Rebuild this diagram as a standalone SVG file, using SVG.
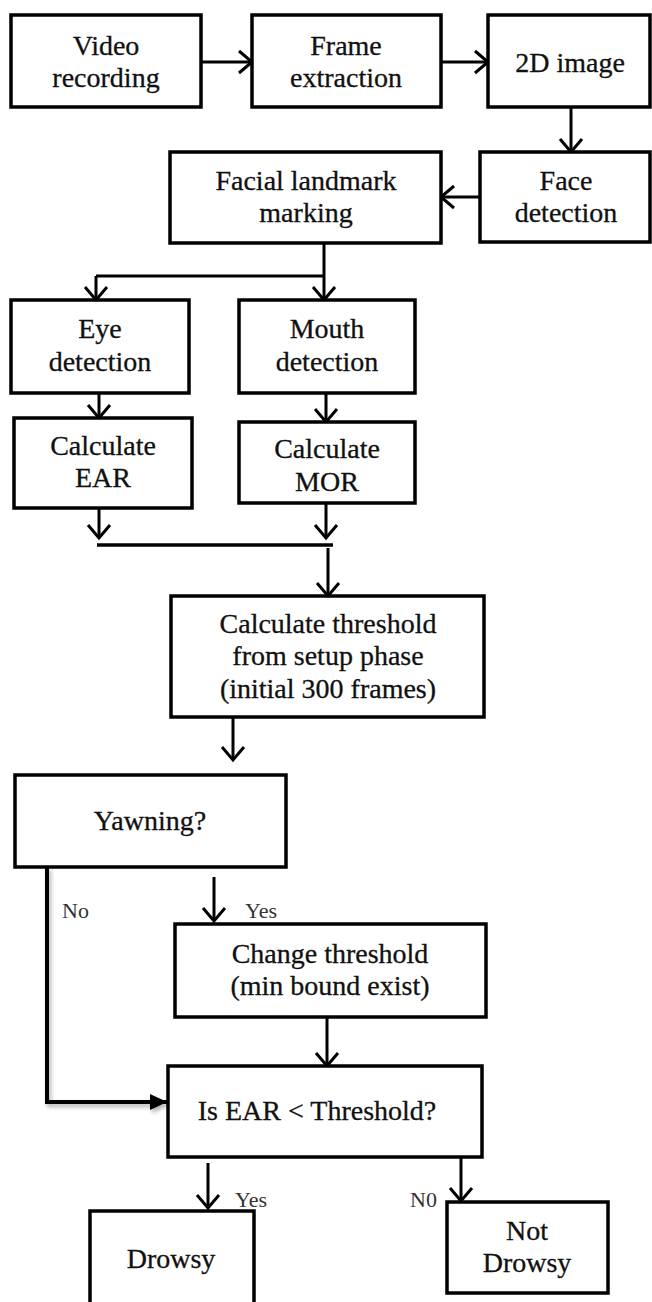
<svg xmlns="http://www.w3.org/2000/svg" width="652" height="1302" viewBox="0 0 652 1302">
<style>
.box{fill:#fff;stroke:#000;stroke-width:3.5}
.t{font-family:"Liberation Serif","Times New Roman",serif;font-size:28px;text-anchor:middle;fill:#111;stroke:#111;stroke-width:0.3}
.lbl{font-family:"Liberation Serif","Times New Roman",serif;font-size:22px;fill:#333}
.c{stroke:#000;stroke-width:3;fill:none}
.ca{stroke:#000;stroke-width:3;fill:none;marker-end:url(#open)}
</style>
<defs>
<marker id="open" markerUnits="userSpaceOnUse" markerWidth="18" markerHeight="26" viewBox="0 0 18 26" refX="15" refY="13" orient="auto">
<path d="M2,2 L15,13 L2,24" fill="none" stroke="#000" stroke-width="3"/>
</marker>
<marker id="solid" markerUnits="userSpaceOnUse" markerWidth="18" markerHeight="16" viewBox="0 0 18 16" refX="17" refY="8" orient="auto">
<path d="M0,0 L17,8 L0,16 z" fill="#000"/>
</marker>
<filter id="sh" x="-20%" y="-20%" width="140%" height="140%">
<feDropShadow dx="2" dy="3" stdDeviation="2" flood-color="#000" flood-opacity="0.3"/>
</filter>
</defs>
<rect width="652" height="1302" fill="#fff"/>

<g id="connectors">
<line class="ca" x1="201" y1="62" x2="252" y2="62"/>
<line class="ca" x1="441" y1="62" x2="488" y2="62"/>
<line class="ca" x1="571" y1="107" x2="571" y2="152"/>
<line class="ca" x1="480" y1="197" x2="441" y2="197"/>
<line class="c" x1="324" y1="243" x2="324" y2="276"/>
<line class="c" x1="96" y1="276" x2="325" y2="276"/>
<line class="ca" x1="96" y1="276" x2="96" y2="300"/>
<line class="ca" x1="324" y1="276" x2="324" y2="300"/>
<line class="ca" x1="99" y1="393" x2="99" y2="418"/>
<line class="ca" x1="326" y1="393" x2="326" y2="422"/>
<line class="ca" x1="99" y1="508" x2="99" y2="538"/>
<line class="ca" x1="326" y1="503" x2="326" y2="538"/>
<line class="c" x1="97" y1="545" x2="333" y2="545" style="stroke-width:3.5"/>
<line class="ca" x1="328" y1="548" x2="328" y2="596"/>
<line class="ca" x1="233" y1="717" x2="233" y2="760"/>
<line class="ca" x1="214" y1="877" x2="214" y2="921"/>
<path d="M47,867 V1102 H167" fill="none" stroke="#000" stroke-width="4" marker-end="url(#solid)" filter="url(#sh)"/>
<line class="ca" x1="327" y1="1017" x2="327" y2="1066"/>
<line class="ca" x1="208" y1="1163" x2="208" y2="1208"/>
<line class="ca" x1="461" y1="1157" x2="461" y2="1201"/>
<text class="lbl" x="62" y="918">No</text>
<text class="lbl" x="245" y="918">Yes</text>
<text class="lbl" x="235" y="1207">Yes</text>
<text class="lbl" x="410" y="1207">N0</text>
</g>

<g id="n-video">
<rect class="box" x="11" y="15" width="190" height="92"/>
<text class="t" x="106" y="55">Video</text>
<text class="t" x="106" y="87">recording</text>
</g>
<g id="n-frame">
<rect class="box" x="252" y="15" width="189" height="92"/>
<text class="t" x="346" y="55">Frame</text>
<text class="t" x="346" y="87">extraction</text>
</g>
<g id="n-2d">
<rect class="box" x="488" y="15" width="162" height="92"/>
<text class="t" x="570" y="72">2D image</text>
</g>
<g id="n-face">
<rect class="box" x="480" y="152" width="170" height="90"/>
<text class="t" x="566" y="190">Face</text>
<text class="t" x="566" y="222">detection</text>
</g>
<g id="n-landmark">
<rect class="box" x="170" y="152" width="271" height="91"/>
<text class="t" x="306" y="190">Facial landmark</text>
<text class="t" x="306" y="222">marking</text>
</g>
<g id="n-eye">
<rect class="box" x="11" y="300" width="178" height="93"/>
<text class="t" x="100" y="338">Eye</text>
<text class="t" x="100" y="371">detection</text>
</g>
<g id="n-mouth">
<rect class="box" x="239" y="300" width="176" height="93"/>
<text class="t" x="327" y="338">Mouth</text>
<text class="t" x="327" y="371">detection</text>
</g>
<g id="n-ear">
<rect class="box" x="14" y="418" width="178" height="90"/>
<text class="t" x="103" y="455">Calculate</text>
<text class="t" x="103" y="487">EAR</text>
</g>
<g id="n-mor">
<rect class="box" x="239" y="422" width="176" height="81"/>
<text class="t" x="327" y="458">Calculate</text>
<text class="t" x="327" y="491">MOR</text>
</g>
<g id="n-threshold">
<rect class="box" x="171" y="596" width="313" height="121"/>
<text class="t" x="328" y="633">Calculate threshold</text>
<text class="t" x="328" y="665">from setup phase</text>
<text class="t" x="328" y="698">(initial 300 frames)</text>
</g>
<g id="n-yawning">
<rect class="box" x="15" y="775" width="271" height="92"/>
<text class="t" x="150" y="830">Yawning?</text>
</g>
<g id="n-change">
<rect class="box" x="175" y="924" width="311" height="93"/>
<text class="t" x="330" y="963">Change threshold</text>
<text class="t" x="330" y="995">(min bound exist)</text>
</g>
<g id="n-isear">
<rect class="box" x="168" y="1066" width="314" height="91"/>
<text class="t" x="317" y="1120">Is EAR &lt; Threshold?</text>
</g>
<g id="n-drowsy">
<rect class="box" x="90" y="1211" width="164" height="100"/>
<text class="t" x="171" y="1268">Drowsy</text>
</g>
<g id="n-notdrowsy">
<rect class="box" x="447" y="1202" width="161" height="91"/>
<text class="t" x="527" y="1240">Not</text>
<text class="t" x="527" y="1272">Drowsy</text>
</g>
</svg>
